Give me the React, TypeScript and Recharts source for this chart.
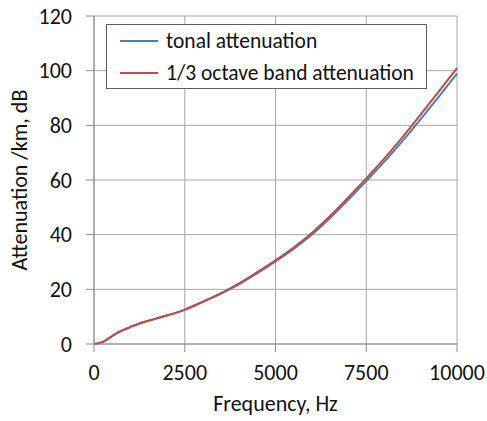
import { LineChart, Line, XAxis, YAxis, CartesianGrid, Legend } from 'recharts'

// frequency grid (Hz) and attenuation (dB/km)
const freqs = [0, 250, 500, 750, 1000, 1250, 1500, 2000, 2500, 3000, 3500, 4000, 4500, 5000, 5500, 6000, 6500, 7000, 7500, 8000, 8500, 9000, 9500, 10000]
const tonal = [0, 0.8, 2.9, 4.8, 6.2, 7.5, 8.5, 10.4, 12.5, 15.4, 18.4, 21.9, 25.9, 30.2, 34.8, 40.0, 46.0, 52.7, 59.6, 66.7, 74.3, 82.3, 90.5, 98.9]
const band = [0, 0.8, 2.9, 4.8, 6.2, 7.5, 8.5, 10.4, 12.6, 15.5, 18.6, 22.2, 26.3, 30.6, 35.3, 40.6, 46.8, 53.6, 60.6, 67.9, 75.7, 84.0, 92.4, 100.9]

const xTicks = [0, 2500, 5000, 7500, 10000]
const yTicks = [0, 20, 40, 60, 80, 100, 120]
const seriesNames = ['tonal attenuation', '1/3 octave band attenuation']

const FONT = 'Carlito, Lato, sans-serif'
const BLUE = '#4a7ebb'
const RED = '#be4b48'
const TXT = { fontSize: 22, fill: '#111', fontFamily: FONT }

const data = freqs.map((f, i) => ({ f, tonal: tonal[i], band: band[i] }))

function LegendBox({ payload }: any) {
  const items = [...(payload || [])].sort((a: any, b: any) => seriesNames.indexOf(a.value) - seriesNames.indexOf(b.value))
  return (
    <div
      style={{
        width: 321,
        height: 65,
        boxSizing: 'border-box',
        border: '1px solid #5f5f5f',
        background: '#fff',
        fontFamily: FONT,
        fontSize: 21.5,
        color: '#111',
      }}
    >
      {items.map((p: any) => (
        <div key={p.value} style={{ display: 'flex', alignItems: 'center', height: 32, whiteSpace: 'nowrap' }}>
          <span style={{ display: 'inline-block', width: 38, height: 2, background: p.color, marginLeft: 13, marginRight: 8 }} />
          <span>{p.value}</span>
        </div>
      ))}
    </div>
  )
}

export default function App() {
  return (
    <div style={{ position: 'absolute', left: 0, top: 0, background: '#fff' }}>
      <LineChart width={487} height={421} data={data} margin={{ top: 16, right: 30, bottom: 0, left: 0 }}>
        <CartesianGrid stroke="#a6a6a6" strokeWidth={1} />
        <XAxis
          dataKey="f"
          type="number"
          domain={[0, 10000]}
          ticks={xTicks}
          height={77}
          tickSize={8}
          tickMargin={12}
          stroke="#8c8c8c"
          tick={TXT}
          label={{ value: 'Frequency, Hz', position: 'insideBottom', offset: 10, style: TXT }}
        />
        <YAxis
          type="number"
          domain={[0, 120]}
          ticks={yTicks}
          width={94}
          tickSize={8}
          tickMargin={14}
          stroke="#8c8c8c"
          tick={TXT}
          label={{ value: 'Attenuation /km, dB', angle: -90, position: 'insideLeft', offset: 19, style: { ...TXT, textAnchor: 'middle' } }}
        />
        <Legend
          layout="vertical"
          align="center"
          verticalAlign="middle"
          wrapperStyle={{ left: 106, top: 24, width: 321, height: 65 }}
          content={<LegendBox />}
        />
        <Line type="monotone" dataKey="tonal" name={seriesNames[0]} stroke={BLUE} strokeWidth={2} dot={false} isAnimationActive={false} />
        <Line type="monotone" dataKey="band" name={seriesNames[1]} stroke={RED} strokeWidth={2} dot={false} isAnimationActive={false} />
      </LineChart>
    </div>
  )
}
